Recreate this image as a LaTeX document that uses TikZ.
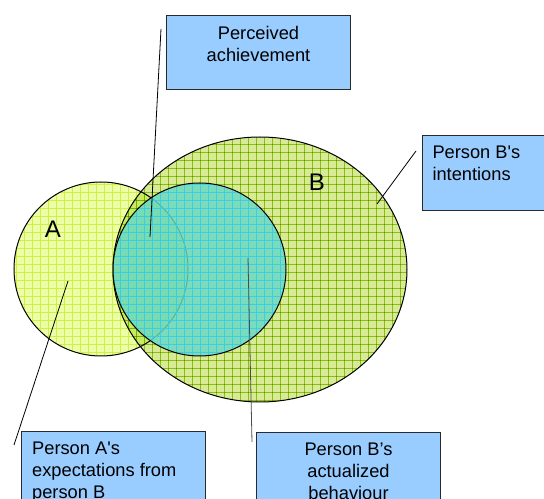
\documentclass[tikz,border=0pt]{standalone}
\usepackage{fontspec}
\setmainfont{Liberation Sans}
\definecolor{boxblue}{HTML}{99CCFF}
\definecolor{boxedge}{HTML}{2A2A2A}
\definecolor{aBase}{HTML}{EDFFA6}
\definecolor{aLine}{HTML}{CFF04A}
\definecolor{bBase}{HTML}{D8EA96}
\definecolor{bLine}{HTML}{A4D028}
\definecolor{cBase}{HTML}{66DAC6}
\definecolor{cLine}{HTML}{34CDEA}
% fixed-size box body: width, height, alignment, first-line height, text
\newcommand\boxbody[5]{\parbox[t][#2][t]{#1}{#3\rule{0pt}{#4}#5}}
% square hatch grid across the whole canvas (used inside a clip)
\newcommand\hatchgrid[1]{%
  \foreach \gx in {0,8,...,544} \draw[#1, line width=0.5pt] (\gx,0) -- (\gx,499);
  \foreach \gy in {0,8,...,496} \draw[#1, line width=0.5pt] (0,\gy) -- (544,\gy);
}
\tikzset{
  infobox/.style={draw=boxedge, fill=boxblue, line width=0.75pt, inner sep=0pt,
    anchor=north west, font=\fontsize{13.7pt}{16.5pt}\selectfont},
  connector/.style={draw=black, line width=0.6pt},
  outline/.style={draw=black, line width=0.75pt},
  setlabel/.style={font=\fontsize{18pt}{20pt}\selectfont, inner sep=0pt},
}
\begin{document}
\begin{tikzpicture}[x=0.75pt,y=-0.75pt]
\useasboundingbox (0,0) rectangle (544,499);
\clip (0,0) rectangle (544,499);

% set A
\begin{scope}
  \clip (101,269) ellipse [x radius=87, y radius=87];
  \fill[aBase] (0,0) rectangle (544,499);
  \hatchgrid{aLine}
\end{scope}
\draw[outline] (101,269) ellipse [x radius=87, y radius=87];

% set B, multiplied over A
\begin{scope}[blend mode=multiply]
  \begin{scope}
    \clip (260,269.5) ellipse [x radius=147, y radius=132.5];
    \fill[bBase] (0,0) rectangle (544,499);
    \hatchgrid{bLine}
  \end{scope}
  \draw[outline] (260,269.5) ellipse [x radius=147, y radius=132.5];
\end{scope}

% actualized behaviour
\begin{scope}[opacity=0.82]
  \begin{scope}
    \clip (199.5,269.5) ellipse [x radius=86.5, y radius=86.5];
    \fill[cBase] (0,0) rectangle (544,499);
    \hatchgrid{cLine}
  \end{scope}
\end{scope}
\draw[outline] (199.5,269.5) ellipse [x radius=86.5, y radius=86.5];

\node[setlabel] (labA) at (53,229) {A};
\node[setlabel] (labB) at (317,182) {B};

% callout boxes
\node[infobox] (perceived) at (166,15)
  {\boxbody{138pt}{55.5pt}{\centering}{18pt}{Perceived\\achievement}};
\node[infobox] (intentions) at (422,135)
  {\boxbody{111pt}{56.25pt}{\raggedright\leftskip=7.5pt}{17.25pt}{Person B\textquotesingle s\\intentions}};
\node[infobox] (expect) at (21,431)
  {\boxbody{138pt}{60pt}{\raggedright\leftskip=8pt}{17.25pt}{Person A\textquotesingle s\\expectations from\\person B}};
\node[infobox] (actual) at (256,432)
  {\boxbody{138pt}{60pt}{\centering}{17.25pt}{Person B’s\\actualized\\behaviour}};

% leader lines
\coordinate (perceivedTail) at (161,29);
\coordinate (perceivedTip) at (150,237);
\coordinate (intentionsTail) at (416,151);
\coordinate (intentionsTip) at (377,204);
\coordinate (expectTail) at (14,445);
\coordinate (expectTip) at (68,281);
\coordinate (actualTail) at (252,442);
\coordinate (actualTip) at (248,258);
\draw[connector] (perceivedTail) -- (perceivedTip);
\draw[connector] (intentionsTail) -- (intentionsTip);
\draw[connector] (expectTail) -- (expectTip);
\draw[connector, draw=black!70] (actualTail) -- (actualTip);
\end{tikzpicture}
\end{document}
